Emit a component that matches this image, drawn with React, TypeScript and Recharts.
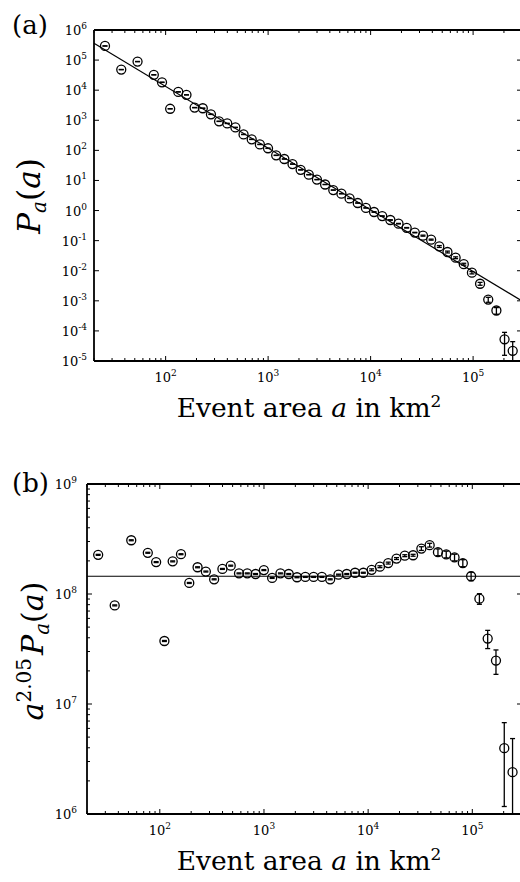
import React from 'react';
import { ScatterChart, Scatter, XAxis, YAxis, ErrorBar, ReferenceLine } from 'recharts';

// ---- data ----
// bin centres (event area, km^2)
const AREA = [
  25.6, 36.9, 53.2,
  76.7, 92.2, 110.7, 132.9, 159.7, 191.8, 230.4, 276.7, 332.3, 399.1,
  479.4, 575.8, 691.6, 830.6, 997.7,
  1198, 1439, 1729, 2076, 2494, 2995, 3598, 4322, 5191, 6234, 7488, 8995,
  10804, 12977, 15585, 18721, 22486, 27010, 32434, 38960, 46796, 56210, 67517, 81100, 97388,
  116970, 140500, 168770, 202700, 243460,
];
// compensated values a^2.05 P_a(a) (panel b)
const COMP = [
  2.27e8, 7.88e7, 3.08e8,
  2.37e8, 1.95e8, 3.74e7, 1.98e8, 2.3e8, 1.26e8, 1.75e8, 1.6e8, 1.36e8, 1.69e8,
  1.81e8, 1.54e8, 1.54e8, 1.52e8, 1.65e8,
  1.4e8, 1.54e8, 1.52e8, 1.42e8, 1.43e8, 1.43e8, 1.43e8, 1.36e8, 1.5e8, 1.52e8, 1.56e8, 1.56e8,
  1.66e8, 1.77e8, 1.91e8, 2.1e8, 2.23e8, 2.25e8, 2.59e8, 2.78e8, 2.4e8, 2.29e8, 2.15e8, 1.91e8, 1.45e8,
  9.06e7, 3.93e7, 2.48e7, 3.97e6, 2.4e6,
];
// error-bar half-lengths of the compensated values
const COMP_ERR = [
  2.3e6, 0.8e6, 3.1e6,
  2.4e6, 2.0e6, 0.4e6, 2.0e6, 2.3e6, 1.3e6, 1.8e6, 1.6e6, 1.4e6, 1.7e6,
  1.8e6, 1.5e6, 1.5e6, 1.5e6, 1.7e6,
  1.4e6, 1.5e6, 1.5e6, 1.4e6, 1.4e6, 1.4e6, 1.4e6, 1.4e6, 1.5e6, 1.5e6, 1.6e6, 1.6e6,
  3.3e6, 3.5e6, 3.8e6, 4.2e6, 4.5e6, 4.5e6, 1.0e7, 1.1e7, 1.7e7, 1.6e7, 1.5e7, 1.4e7, 1.3e7,
  1.0e7, 7.4e6, 6.2e6, 2.8e6, 2.45e6,
];
const EXPONENT = 2.05;
// power-law fit line
const FIT_A_X = [20, 300000];
const FIT_A_Y = [3.6e5, 9.9e-4];
const FIT_B_LEVEL = 1.45e8;

const X_DOMAIN = [20, 300000];
const YA_DOMAIN = [1e-5, 1e6];
const YB_DOMAIN = [1e6, 1e9];
const X_MAJOR = [10, 100, 1000, 10000, 100000];
const YA_MAJOR = [1e-5, 1e-4, 1e-3, 1e-2, 1e-1, 1, 10, 100, 1e3, 1e4, 1e5, 1e6];
const YB_MAJOR = [1e6, 1e7, 1e8, 1e9];

// ---- helpers ----
const FONT = '"DejaVu Serif", serif';
const withMinors = (majors: number[], lo: number, hi: number) => {
  const out: number[] = [];
  majors.forEach((m) => {
    for (let k = 1; k <= 9; k++) {
      const v = m * k;
      if (v >= lo * 0.999 && v <= hi * 0.999) out.push(v);
    }
  });
  return out;
};
const X_TICKS = withMinors(X_MAJOR, X_DOMAIN[0], X_DOMAIN[1]);
const YB_TICKS = withMinors(YB_MAJOR, YB_DOMAIN[0], YB_DOMAIN[1] * 1.01);
const isMajor = (v: number) => {
  const l = Math.log10(v);
  return Math.abs(l - Math.round(l)) < 1e-6;
};
const expOf = (v: number) => Math.round(Math.log10(v));

const dataB = AREA.map((a, i) => ({
  x: a,
  y: COMP[i],
  err: [Math.min(COMP_ERR[i], COMP[i] - YB_DOMAIN[0] * 1.002), COMP_ERR[i]],
}));
const dataA = AREA.map((a, i) => {
  const s = Math.pow(a, EXPONENT);
  const p = COMP[i] / s;
  const e = COMP_ERR[i] / s;
  return { x: a, y: p, err: [Math.min(e, p - YA_DOMAIN[0] * 1.002), e] };
});

const Circle = (props: any) => {
  const { cx, cy } = props;
  if (cx == null || cy == null) return <g />;
  return <circle cx={cx} cy={cy} r={4.5} fill="none" stroke="#000" strokeWidth={1.3} />;
};

const XTick = (props: any) => {
  const { x, payload, top, bottom } = props;
  const v = payload.value;
  const major = isMajor(v);
  const len = major ? 5 : 3;
  return (
    <g>
      <line x1={x} x2={x} y1={bottom} y2={bottom - len} stroke="#000" strokeWidth={1} />
      <line x1={x} x2={x} y1={top} y2={top + len} stroke="#000" strokeWidth={1} />
      {major && (
        <text x={x} y={bottom + 21} textAnchor="middle" fontFamily={FONT} fontSize={13} fill="#000">
          10<tspan dy={-6} fontSize={9}>{expOf(v)}</tspan>
        </text>
      )}
    </g>
  );
};

const YTick = (props: any) => {
  const { y, payload, left, right, gap } = props;
  const v = payload.value;
  const major = isMajor(v);
  const len = major ? 5 : 3;
  return (
    <g>
      <line x1={left} x2={left + len} y1={y} y2={y} stroke="#000" strokeWidth={1} />
      {major && <line x1={right} x2={right - len} y1={y} y2={y} stroke="#000" strokeWidth={1} />}
      {major && (
        <text x={left - gap} y={y + 5} textAnchor="end" fontFamily={FONT} fontSize={13} fill="#000">
          10<tspan dy={-6} fontSize={9}>{expOf(v)}</tspan>
        </text>
      )}
    </g>
  );
};

const AXIS_LINE = { stroke: '#000', strokeWidth: 1.8 };

export default function App() {
  // panel a geometry
  const aTop = 30, aBottom = 361, aLeft = 94, aRight = 522;
  // panel b geometry (in its own chart coords)
  const bTop = 44, bBottom = 374, bLeft = 87, bRight = 522;
  return (
    <div style={{ position: 'absolute', left: 0, top: 0, width: 520, height: 882, overflow: 'hidden', background: '#fff' }}>
      <div style={{ position: 'absolute', left: 0, top: 0 }}>
        <ScatterChart width={530} height={440} margin={{ top: 30, right: 8, bottom: 39, left: 0 }}>
          <XAxis
            dataKey="x" type="number" scale="log" domain={X_DOMAIN} allowDataOverflow
            ticks={X_TICKS} interval={0} tickLine={false} axisLine={AXIS_LINE} height={40}
            tick={(p: any) => <XTick {...p} top={aTop} bottom={aBottom} />}
          />
          <YAxis
            dataKey="y" type="number" scale="log" domain={YA_DOMAIN} allowDataOverflow
            ticks={YA_MAJOR} interval={0} tickLine={false} axisLine={AXIS_LINE} width={94}
            tick={(p: any) => <YTick {...p} left={aLeft} right={aRight} gap={7} />}
          />
          <ReferenceLine y={YA_DOMAIN[1]} stroke="#000" strokeWidth={1.8} ifOverflow="visible" />
          <ReferenceLine x={X_DOMAIN[1]} stroke="#000" strokeWidth={1.8} ifOverflow="visible" />
          <ReferenceLine
            segment={[{ x: FIT_A_X[0], y: FIT_A_Y[0] }, { x: FIT_A_X[1], y: FIT_A_Y[1] }]}
            stroke="#000" strokeWidth={1.2} ifOverflow="visible"
          />
          <Scatter data={dataA} dataKey="y" shape={Circle} isAnimationActive={false}>
            <ErrorBar dataKey="err" direction="y" width={2.5} stroke="#000" strokeWidth={1.3} isAnimationActive={false} />
          </Scatter>
        </ScatterChart>
      </div>
      <div style={{ position: 'absolute', left: 0, top: 440 }}>
        <ScatterChart width={530} height={442} margin={{ top: 44, right: 8, bottom: 28, left: 0 }}>
          <XAxis
            dataKey="x" type="number" scale="log" domain={X_DOMAIN} allowDataOverflow
            ticks={X_TICKS} interval={0} tickLine={false} axisLine={AXIS_LINE} height={40}
            tick={(p: any) => <XTick {...p} top={bTop} bottom={bBottom} />}
          />
          <YAxis
            dataKey="y" type="number" scale="log" domain={YB_DOMAIN} allowDataOverflow
            ticks={YB_TICKS} interval={0} tickLine={false} axisLine={AXIS_LINE} width={87}
            tick={(p: any) => <YTick {...p} left={bLeft} right={bRight} gap={10} />}
          />
          <ReferenceLine y={YB_DOMAIN[1]} stroke="#000" strokeWidth={1.8} ifOverflow="visible" />
          <ReferenceLine x={X_DOMAIN[1]} stroke="#000" strokeWidth={1.8} ifOverflow="visible" />
          <ReferenceLine y={FIT_B_LEVEL} stroke="#000" strokeWidth={1.2} ifOverflow="visible" />
          <Scatter data={dataB} dataKey="y" shape={Circle} isAnimationActive={false}>
            <ErrorBar dataKey="err" direction="y" width={2.5} stroke="#000" strokeWidth={1.3} isAnimationActive={false} />
          </Scatter>
        </ScatterChart>
      </div>
      <svg width={520} height={882} style={{ position: 'absolute', left: 0, top: 0, pointerEvents: 'none' }}>
        <g fontFamily={FONT} fill="#000">
          <text x={12} y={34} fontSize={26}>(a)</text>
          <text x={12} y={492} fontSize={26}>(b)</text>
          <text x={309} y={417} textAnchor="middle" fontSize={26.5}>
            Event area <tspan fontStyle="italic">a</tspan> in km<tspan dy={-10} fontSize={17}>2</tspan>
          </text>
          <text x={309} y={870} textAnchor="middle" fontSize={26.5}>
            Event area <tspan fontStyle="italic">a</tspan> in km<tspan dy={-10} fontSize={17}>2</tspan>
          </text>
          <text transform="rotate(-90 40 196)" x={40} y={196} textAnchor="middle" fontSize={31}>
            <tspan fontStyle="italic">P</tspan>
            <tspan fontStyle="italic" fontSize={20} dy={6}>a</tspan>
            <tspan dy={-6}>(</tspan>
            <tspan fontStyle="italic">a</tspan>)
          </text>
          <text transform="rotate(-90 43 651)" x={43} y={651} textAnchor="middle" fontSize={30}>
            <tspan fontStyle="italic">a</tspan>
            <tspan fontSize={20} dy={-12}>2.05</tspan>
            <tspan fontStyle="italic" dy={12} dx={3}>P</tspan>
            <tspan fontStyle="italic" fontSize={20} dy={6}>a</tspan>
            <tspan dy={-6}>(</tspan>
            <tspan fontStyle="italic">a</tspan>)
          </text>
        </g>
      </svg>
    </div>
  );
}
